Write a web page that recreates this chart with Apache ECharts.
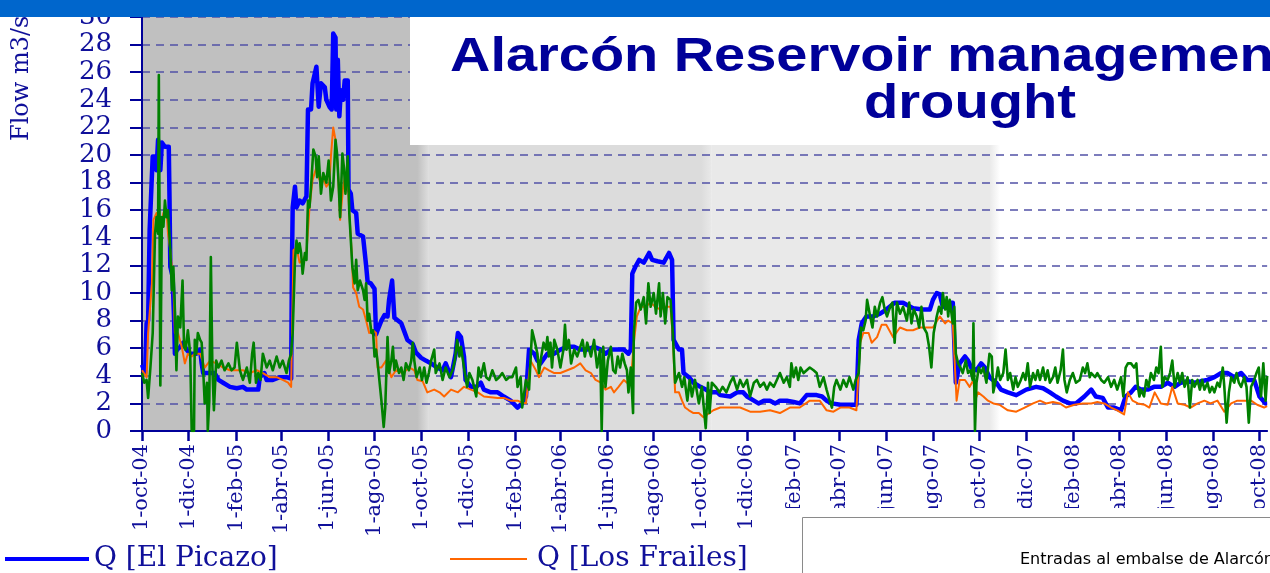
<!DOCTYPE html>
<html><head><meta charset="utf-8">
<script src="https://cdn.jsdelivr.net/npm/echarts@6/dist/echarts.min.js"></script>
<style>html,body{margin:0;padding:0;background:#fff;overflow:hidden}#c{width:1270px;height:573px}</style>
</head><body><div id="c"></div>
<script>
// Daily axis starting 1-oct-04
const startYear = 2004, startMonth = 9, startDay = 1;
const dayCount = 1472;
const monthNames = ['ene','feb','mar','abr','may','jun','jul','ago','sep','oct','nov','dic'];
const tickLabels = ['1-oct-04','1-dic-04','1-feb-05','1-abr-05','1-jun-05','1-ago-05','1-oct-05','1-dic-05','1-feb-06','1-abr-06','1-jun-06','1-ago-06','1-oct-06','1-dic-06','1-feb-07','1-abr-07','1-jun-07','1-ago-07','1-oct-07','1-dic-07','1-feb-08','1-abr-08','1-jun-08','1-ago-08','1-oct-08'];
const yMin = 0, yMax = 30, yStep = 2;

// shaded hydrological-year periods [startDay, endDay]
const periods = [[0, 374], [374, 745], [745, 1122]];
const periodColors = ['#c0c0c0', '#dcdcdc', '#e9e9e9', '#ffffff'];

// [day since 1-oct-04, flow m3/s]
const picazo = [[0,4.8],[4,4.2],[6,7.8],[8,8.0],[10,14.6],[14,19.9],[17,19.9],[19,18.9],[21,21.1],[24,18.9],[26,20.9],[30,20.6],[35,20.6],[36,16.7],[37,11.9],[40,11.2],[42,8.0],[43,5.6],[46,5.9],[50,6.1],[54,6.4],[58,5.9],[63,5.6],[71,5.6],[76,5.9],[78,4.9],[80,4.2],[95,4.2],[100,3.7],[106,3.5],[115,3.2],[124,3.1],[132,3.2],[137,3.0],[152,3.0],[154,3.9],[160,4.2],[163,3.7],[171,3.7],[180,3.9],[189,3.9],[195,3.8],[196,11.9],[197,16.2],[200,17.7],[202,16.2],[206,16.7],[210,16.5],[215,17.0],[217,23.3],[221,23.3],[223,25.2],[228,26.4],[231,23.5],[234,25.2],[239,24.9],[241,24.0],[245,23.5],[248,23.3],[250,28.8],[253,28.5],[254,23.3],[256,26.9],[258,22.8],[260,24.7],[263,24.0],[265,25.4],[269,25.4],[270,17.5],[273,17.2],[275,16.0],[280,15.8],[282,14.3],[289,14.1],[291,14.0],[293,12.0],[295,10.8],[299,10.7],[304,10.3],[306,7.0],[308,7.3],[313,8.0],[317,8.4],[321,8.3],[323,9.5],[327,10.9],[329,10.8],[330,8.2],[339,7.8],[343,7.2],[347,6.6],[354,6.3],[358,5.7],[365,5.3],[371,5.1],[378,4.9],[386,4.6],[393,4.4],[397,4.9],[404,3.9],[410,5.6],[413,7.1],[417,6.8],[421,5.4],[423,3.7],[430,3.2],[437,3.2],[443,3.5],[447,3.0],[456,2.8],[465,2.8],[473,2.5],[482,2.2],[491,1.7],[497,2.0],[502,2.5],[506,5.9],[513,5.6],[517,5.1],[521,4.9],[530,5.6],[539,5.6],[547,5.9],[556,6.1],[565,6.1],[573,5.9],[582,5.9],[591,6.1],[600,5.9],[606,5.6],[613,5.9],[630,5.9],[636,5.6],[639,5.9],[641,11.4],[645,11.9],[650,12.4],[656,12.2],[663,12.9],[667,12.4],[674,12.3],[682,12.2],[689,12.9],[693,12.4],[695,6.6],[702,5.9],[706,5.9],[708,4.2],[715,3.9],[721,3.5],[730,3.2],[737,3.0],[743,2.8],[752,2.8],[756,2.6],[769,2.5],[778,2.8],[786,2.8],[791,2.5],[800,2.2],[806,2.0],[813,2.2],[821,2.2],[828,2.0],[834,2.2],[843,2.2],[852,2.1],[860,2.0],[869,2.6],[882,2.6],[889,2.5],[895,2.2],[902,2.0],[913,1.9],[934,1.9],[937,6.6],[941,7.8],[947,8.3],[956,8.3],[965,8.5],[973,8.8],[984,9.3],[995,9.3],[1008,8.9],[1021,8.8],[1030,8.8],[1034,9.5],[1039,10.0],[1043,9.9],[1047,9.0],[1054,9.3],[1060,9.3],[1064,3.5],[1069,4.9],[1076,5.4],[1080,5.1],[1084,4.6],[1091,4.4],[1097,4.9],[1102,4.6],[1108,3.9],[1117,3.5],[1123,3.0],[1132,2.8],[1143,2.6],[1156,3.0],[1169,3.2],[1178,3.1],[1187,2.8],[1195,2.5],[1204,2.2],[1213,2.0],[1221,2.0],[1232,2.5],[1241,3.0],[1247,2.5],[1256,2.4],[1263,1.7],[1271,1.7],[1280,1.5],[1286,2.5],[1293,2.8],[1299,3.2],[1306,3.0],[1315,3.0],[1323,3.2],[1332,3.2],[1341,3.5],[1350,3.2],[1358,3.5],[1367,3.6],[1376,3.5],[1384,3.6],[1393,3.7],[1402,3.9],[1411,4.2],[1419,4.2],[1428,3.9],[1437,4.2],[1445,3.7],[1454,3.7],[1461,2.5],[1469,2.0],[1471,2.0]];

const frailes = [[0,4.4],[6,3.9],[8,7.1],[13,10.7],[15,15.3],[19,15.8],[26,15.1],[28,15.8],[32,16.0],[34,14.3],[37,13.1],[39,11.9],[41,10.7],[43,7.1],[47,7.1],[52,6.1],[56,4.9],[60,5.6],[65,5.4],[69,5.6],[76,5.6],[82,4.6],[89,5.1],[97,4.9],[106,4.6],[115,4.4],[132,4.4],[141,4.2],[150,4.4],[158,4.2],[167,3.9],[176,3.9],[184,3.7],[191,3.5],[195,3.2],[198,13.1],[202,13.3],[206,12.2],[210,12.4],[215,12.9],[219,16.2],[223,18.2],[228,19.1],[232,18.2],[236,18.4],[241,17.7],[245,18.0],[247,19.9],[250,22.0],[253,21.1],[256,19.1],[259,15.3],[263,17.7],[266,18.7],[269,18.2],[271,15.8],[274,13.1],[276,10.4],[280,10.0],[284,9.0],[289,8.8],[293,8.0],[297,7.1],[302,7.3],[306,7.1],[308,4.6],[313,4.6],[319,5.1],[326,3.9],[332,4.4],[341,4.2],[350,4.6],[356,4.4],[360,3.7],[367,3.6],[373,2.8],[382,3.0],[389,2.8],[395,2.5],[404,3.0],[413,2.8],[421,3.2],[430,3.0],[439,2.8],[447,2.5],[465,2.4],[473,2.4],[482,2.2],[491,2.2],[495,2.1],[502,2.0],[508,5.1],[515,4.4],[519,3.9],[526,4.6],[532,4.4],[539,4.2],[547,4.2],[556,4.4],[565,4.6],[573,4.9],[580,4.4],[587,4.2],[593,3.7],[600,3.5],[606,3.0],[613,3.2],[617,2.8],[623,3.2],[630,3.7],[634,3.5],[639,3.5],[643,6.4],[647,8.3],[652,9.0],[658,9.0],[665,9.3],[671,9.0],[678,8.8],[684,9.0],[691,9.0],[694,6.8],[697,2.8],[702,2.8],[706,2.2],[710,1.7],[715,1.5],[721,1.3],[728,1.3],[734,1.0],[747,1.5],[756,1.7],[769,1.7],[782,1.7],[795,1.4],[808,1.4],[821,1.5],[834,1.3],[847,1.7],[860,1.7],[873,2.2],[886,2.2],[895,1.5],[904,1.4],[913,1.7],[925,1.7],[934,1.5],[939,6.4],[943,7.1],[950,7.1],[954,6.4],[961,6.8],[967,7.7],[973,7.7],[982,6.8],[991,7.5],[1000,7.3],[1008,7.3],[1017,7.5],[1034,7.5],[1043,8.3],[1050,7.8],[1054,8.0],[1060,7.8],[1065,2.2],[1069,3.7],[1076,3.7],[1082,3.2],[1087,3.7],[1089,2.2],[1093,2.8],[1100,2.5],[1106,2.2],[1113,2.0],[1121,1.9],[1132,1.5],[1143,1.4],[1154,1.7],[1165,2.0],[1174,2.2],[1182,2.0],[1191,2.1],[1200,2.0],[1208,1.7],[1219,1.9],[1230,2.0],[1241,2.0],[1249,2.1],[1258,2.0],[1267,1.7],[1275,1.5],[1284,1.2],[1289,2.8],[1295,2.2],[1302,2.0],[1311,1.9],[1317,1.7],[1324,2.8],[1332,2.0],[1341,1.9],[1347,3.2],[1354,2.0],[1363,1.9],[1371,1.7],[1380,2.0],[1389,2.2],[1397,2.0],[1406,2.2],[1415,1.4],[1424,2.0],[1432,2.2],[1441,2.2],[1450,2.2],[1458,1.9],[1467,1.7],[1471,1.8]];

const alarcon = [[0,4.2],[3,3.5],[6,3.7],[8,2.4],[11,4.6],[14,7.1],[17,14.3],[19,15.5],[21,14.3],[22,25.8],[24,3.3],[26,15.5],[28,14.8],[30,16.7],[32,15.5],[34,16.0],[37,13.1],[39,10.2],[41,11.9],[43,8.8],[45,4.4],[47,8.3],[50,7.5],[53,10.9],[55,6.1],[57,5.9],[60,7.3],[63,5.6],[65,0],[68,0],[69,6.6],[71,5.6],[73,7.1],[76,6.6],[78,6.4],[80,4.4],[82,2.0],[85,3.5],[86,0],[88,2.2],[90,12.6],[92,4.6],[94,1.5],[97,5.1],[100,4.6],[104,5.1],[108,4.4],[113,4.9],[117,4.4],[121,4.6],[124,6.4],[128,4.4],[132,3.7],[137,4.6],[141,3.5],[144,5.6],[146,6.4],[149,3.5],[152,4.2],[155,3.7],[158,5.6],[163,4.6],[167,5.1],[171,4.4],[176,5.4],[180,4.6],[184,5.1],[189,4.2],[192,5.1],[195,5.6],[197,7.1],[200,12.4],[202,13.8],[204,12.9],[206,13.6],[208,12.9],[210,11.4],[213,12.9],[215,12.4],[217,16.7],[219,16.2],[221,17.7],[224,20.4],[227,19.9],[229,18.4],[231,19.9],[234,17.2],[237,18.7],[241,18.0],[244,19.6],[247,16.7],[250,17.7],[253,21.1],[255,20.1],[257,18.0],[259,15.5],[262,20.1],[264,19.1],[266,17.2],[269,19.9],[271,15.8],[275,11.9],[278,10.7],[280,12.4],[282,10.2],[285,10.9],[289,10.2],[291,9.5],[293,10.7],[295,8.0],[297,8.5],[300,7.1],[302,7.3],[304,5.4],[306,5.9],[308,5.0],[313,2.2],[316,0.3],[318,1.7],[321,6.8],[323,4.2],[326,5.1],[328,6.1],[330,4.4],[332,5.1],[336,4.2],[339,4.6],[342,3.7],[345,4.9],[349,4.4],[352,5.1],[354,6.4],[356,5.1],[359,3.9],[363,4.6],[366,3.7],[369,4.6],[372,3.5],[375,4.2],[378,5.1],[382,5.9],[384,4.2],[389,4.9],[393,3.7],[397,4.6],[402,3.9],[406,4.4],[409,5.1],[412,6.6],[415,5.4],[417,6.1],[421,4.6],[425,3.2],[428,4.2],[432,3.7],[437,2.5],[440,4.6],[443,3.9],[447,4.9],[450,3.9],[454,3.7],[458,4.4],[463,3.7],[467,3.9],[471,4.2],[476,3.7],[480,3.9],[484,3.9],[489,4.6],[491,3.2],[495,3.9],[497,1.7],[502,3.7],[506,3.0],[510,7.3],[513,6.6],[517,5.6],[519,4.2],[522,5.4],[525,6.4],[528,5.9],[530,6.8],[532,5.4],[534,6.4],[536,4.6],[539,6.6],[543,5.9],[547,4.6],[551,5.9],[553,7.7],[555,5.9],[558,6.6],[561,4.9],[565,5.9],[569,5.4],[573,6.1],[576,6.6],[579,5.4],[582,6.4],[587,5.4],[591,6.6],[595,4.6],[599,5.9],[601,0],[603,6.1],[606,3.2],[609,5.1],[613,6.1],[616,4.4],[619,4.2],[622,5.4],[625,4.6],[628,5.6],[631,4.9],[634,4.4],[636,2.8],[639,4.6],[642,1.3],[643,7.1],[646,9.3],[649,9.5],[652,8.8],[656,9.7],[659,7.8],[662,10.7],[665,9.0],[669,10.0],[672,8.5],[676,10.7],[678,8.3],[681,10.0],[684,7.8],[687,9.7],[691,9.5],[694,7.1],[697,3.5],[702,4.2],[706,3.2],[709,3.9],[713,2.2],[716,3.7],[719,2.5],[723,3.7],[728,2.0],[732,3.2],[737,0.2],[740,3.5],[742,1.3],[745,3.5],[750,3.2],[755,2.8],[759,3.2],[764,2.8],[769,3.5],[773,3.9],[778,3.0],[782,3.7],[786,3.2],[791,3.7],[795,2.5],[800,3.5],[804,3.7],[808,3.2],[813,3.5],[817,3.0],[821,3.5],[826,3.2],[830,3.7],[834,4.2],[839,3.5],[843,3.9],[847,3.2],[849,4.9],[852,3.9],[855,4.6],[858,3.7],[861,4.6],[865,4.2],[869,4.4],[873,4.6],[878,4.4],[882,4.2],[886,3.2],[891,3.9],[895,3.0],[899,2.2],[902,1.7],[905,3.2],[908,3.7],[913,3.0],[917,3.7],[921,3.2],[925,3.9],[930,3.0],[933,3.7],[937,4.2],[940,7.5],[943,7.3],[946,8.0],[948,9.5],[952,8.3],[955,7.5],[958,9.0],[961,8.3],[965,9.3],[968,9.7],[971,8.8],[974,8.3],[978,9.0],[981,9.3],[984,6.4],[987,9.3],[991,8.5],[995,9.0],[1000,8.0],[1003,9.3],[1006,7.8],[1009,8.8],[1013,8.3],[1016,7.5],[1019,9.0],[1022,7.5],[1026,7.1],[1029,6.1],[1032,4.6],[1035,7.1],[1039,8.3],[1042,9.0],[1045,8.5],[1047,10.0],[1050,8.8],[1052,9.7],[1054,8.3],[1056,9.5],[1060,7.8],[1062,9.0],[1064,5.6],[1067,4.9],[1070,4.6],[1073,4.2],[1077,5.1],[1080,4.2],[1083,4.4],[1086,3.7],[1087,7.8],[1089,0],[1091,3.5],[1094,4.6],[1097,4.2],[1100,4.6],[1104,3.5],[1108,5.6],[1111,5.4],[1113,2.8],[1117,3.9],[1119,4.6],[1122,3.7],[1126,4.2],[1129,5.9],[1132,3.7],[1135,4.2],[1139,3.0],[1142,3.9],[1145,3.2],[1149,3.7],[1152,4.2],[1155,3.7],[1158,4.9],[1161,3.2],[1165,4.2],[1168,3.7],[1171,4.4],[1174,3.7],[1178,4.6],[1181,3.7],[1184,4.4],[1187,3.5],[1191,3.9],[1194,4.6],[1197,3.5],[1201,4.4],[1204,5.9],[1206,3.7],[1209,2.8],[1213,3.7],[1217,4.2],[1221,3.5],[1226,3.7],[1230,4.6],[1233,4.2],[1236,4.9],[1239,3.9],[1241,4.2],[1246,3.9],[1249,4.2],[1254,3.7],[1258,3.5],[1263,3.9],[1267,3.2],[1271,3.7],[1275,3.0],[1280,3.9],[1283,2.5],[1286,4.6],[1289,4.9],[1293,4.9],[1297,4.6],[1300,4.9],[1302,3.2],[1304,2.5],[1306,3.0],[1310,2.5],[1313,3.7],[1316,3.2],[1319,4.2],[1323,3.7],[1326,4.6],[1329,4.2],[1332,6.1],[1334,3.2],[1337,3.9],[1341,3.7],[1344,4.2],[1347,5.1],[1350,3.2],[1354,4.2],[1357,3.5],[1360,4.2],[1363,3.2],[1367,3.9],[1370,1.7],[1373,3.7],[1376,3.2],[1380,3.7],[1383,3.0],[1386,3.7],[1389,3.0],[1393,3.5],[1396,2.8],[1399,3.2],[1402,2.8],[1406,3.5],[1409,3.2],[1413,4.6],[1415,3.2],[1418,0.6],[1421,2.8],[1424,3.9],[1428,3.5],[1431,4.2],[1434,3.5],[1437,3.2],[1441,3.9],[1444,3.2],[1447,0.6],[1450,3.2],[1454,3.7],[1457,4.2],[1460,4.6],[1463,2.5],[1466,4.9],[1469,2.2],[1471,4.0]];

const categories = [];
for (let i = 0; i < dayCount; i++) {
  const d = new Date(Date.UTC(startYear, startMonth, startDay + i));
  categories.push(d.getUTCDate() + '-' + monthNames[d.getUTCMonth()] + '-' + String(d.getUTCFullYear()).slice(2));
}
const tickSet = new Set(tickLabels);
const isTick = (idx, val) => tickSet.has(val);

const navy = '#10109a';
const serif = '"DejaVu Serif", "Liberation Serif", serif';

function bandFill(i) {
  const c = periodColors[i], n = periodColors[i + 1];
  const w = periods[i][1] - periods[i][0];
  const f = Math.max(0, 1 - 14 / w);
  return new echarts.graphic.LinearGradient(0, 0, 1, 0, [
    {offset: 0, color: c}, {offset: f, color: c}, {offset: 1, color: n}
  ]);
}

const chart = echarts.init(document.getElementById('c'), null, {renderer: 'canvas'});
chart.setOption({
  animation: false,
  backgroundColor: '#ffffff',
  grid: {left: 142, right: 0, top: 17, bottom: 142},
  legend: [
    {data: ['Q [El Picazo]'], left: 5, top: 545, padding: 0, icon: 'rect', itemWidth: 84, itemHeight: 4,
     textStyle: {fontFamily: serif, fontSize: 28, color: navy}},
    {data: ['Q [Los Frailes]'], left: 450, top: 545, padding: 0, icon: 'rect', itemWidth: 77, itemHeight: 2,
     textStyle: {fontFamily: serif, fontSize: 28, color: navy, padding: [0, 0, 0, 5]}}
  ],
  xAxis: {
    type: 'category', data: categories, boundaryGap: false, z: 2,
    axisLine: {lineStyle: {color: '#000099', width: 2}},
    axisTick: {interval: isTick, length: 10, lineStyle: {color: '#000099', width: 2.5}},
    axisLabel: {interval: isTick, rotate: 90, margin: 13, fontFamily: serif, fontSize: 21, color: navy},
    splitLine: {show: false}
  },
  yAxis: {
    type: 'value', min: yMin, max: yMax, interval: yStep, z: 2,
    axisLine: {show: true, lineStyle: {color: '#000099', width: 2}},
    axisTick: {show: true, length: 12, lineStyle: {color: '#000099', width: 2}},
    axisLabel: {margin: 30, fontFamily: serif, fontSize: 26, color: navy},
    splitLine: {show: true, lineStyle: {type: [8, 6], color: '#5252a6', width: 1.6}}
  },
  series: [
    {type: 'line', name: 'bands', data: [], z: 1, silent: true,
     markArea: {silent: true, z: 1, data: periods.map((p, i) => [
       {xAxis: categories[p[0]], itemStyle: {color: bandFill(i)}},
       {xAxis: categories[p[1]]}
     ])}},
    {type: 'line', name: 'Q [El Picazo]', data: picazo, showSymbol: false, symbol: 'none', z: 3,
     lineStyle: {color: '#0000ff', width: 4.5, join: 'round'}, itemStyle: {color: '#0000ff'}},
    {type: 'line', name: 'Q [Los Frailes]', data: frailes, showSymbol: false, symbol: 'none', z: 4,
     lineStyle: {color: '#ff6600', width: 2, join: 'round'}, itemStyle: {color: '#ff6600'}},
    {type: 'line', name: 'Q [Alarcón]', data: alarcon, showSymbol: false, symbol: 'none', z: 5,
     lineStyle: {color: '#008000', width: 2.6, join: 'round'}, itemStyle: {color: '#008000'}}
  ],
  graphic: [
    {type: 'rect', z: 100, shape: {x: 0, y: 0, width: 1270, height: 17}, style: {fill: '#0066cc'}},
    {type: 'rect', z: 100, shape: {x: 410, y: 17, width: 870, height: 128}, style: {fill: '#ffffff'}},
    {type: 'text', z: 101, x: 450, y: 58, scaleX: 1.165,
     style: {text: 'Alarcón Reservoir management', font: 'bold 48px "Liberation Sans", Arial, sans-serif', fill: '#000099', textAlign: 'left', textVerticalAlign: 'middle', align: 'left', verticalAlign: 'middle'}},
    {type: 'text', z: 101, x: 970, y: 105, scaleX: 1.17,
     style: {text: 'drought', font: 'bold 48px "Liberation Sans", Arial, sans-serif', fill: '#000099', textAlign: 'center', textVerticalAlign: 'middle', align: 'center', verticalAlign: 'middle'}},
    {type: 'text', z: 99, x: 22, y: 141, rotation: Math.PI / 2,
     style: {text: 'Flow m3/s', font: '24px "DejaVu Serif", serif', fill: navy, textAlign: 'left', textVerticalAlign: 'middle', align: 'left', verticalAlign: 'middle'}},
    {type: 'rect', z: 100, shape: {x: 778, y: 508, width: 500, height: 70}, style: {fill: '#ffffff'}},
    {type: 'rect', z: 101, shape: {x: 802.5, y: 517.5, width: 480, height: 70}, style: {fill: '#ffffff', stroke: '#8a8a8a', lineWidth: 1}},
    {type: 'text', z: 102, x: 1020, y: 560,
     style: {text: 'Entradas al embalse de Alarcón', font: '16px "DejaVu Sans", sans-serif', fill: '#000000', textAlign: 'left', textVerticalAlign: 'middle', align: 'left', verticalAlign: 'middle'}}
  ]
});
</script></body></html>
